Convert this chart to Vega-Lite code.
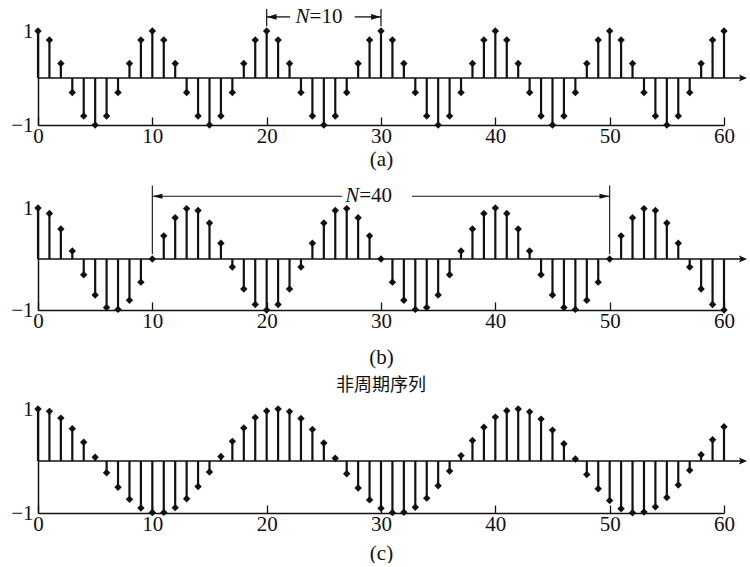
{
  "$schema": "https://vega.github.io/schema/vega-lite/v6.json",
  "background": "white",
  "padding": {"left": 5, "right": 0, "top": 5, "bottom": 0},
  "config": {
    "view": {"stroke": null},
    "font": "Liberation Serif"
  },
  "datasets": {
    "a": [
      {"n":0,"x":1},{"n":1,"x":0.809},{"n":2,"x":0.309},{"n":3,"x":-0.309},{"n":4,"x":-0.809},{"n":5,"x":-1},{"n":6,"x":-0.809},{"n":7,"x":-0.309},{"n":8,"x":0.309},{"n":9,"x":0.809},
      {"n":10,"x":1},{"n":11,"x":0.809},{"n":12,"x":0.309},{"n":13,"x":-0.309},{"n":14,"x":-0.809},{"n":15,"x":-1},{"n":16,"x":-0.809},{"n":17,"x":-0.309},{"n":18,"x":0.309},{"n":19,"x":0.809},
      {"n":20,"x":1},{"n":21,"x":0.809},{"n":22,"x":0.309},{"n":23,"x":-0.309},{"n":24,"x":-0.809},{"n":25,"x":-1},{"n":26,"x":-0.809},{"n":27,"x":-0.309},{"n":28,"x":0.309},{"n":29,"x":0.809},
      {"n":30,"x":1},{"n":31,"x":0.809},{"n":32,"x":0.309},{"n":33,"x":-0.309},{"n":34,"x":-0.809},{"n":35,"x":-1},{"n":36,"x":-0.809},{"n":37,"x":-0.309},{"n":38,"x":0.309},{"n":39,"x":0.809},
      {"n":40,"x":1},{"n":41,"x":0.809},{"n":42,"x":0.309},{"n":43,"x":-0.309},{"n":44,"x":-0.809},{"n":45,"x":-1},{"n":46,"x":-0.809},{"n":47,"x":-0.309},{"n":48,"x":0.309},{"n":49,"x":0.809},
      {"n":50,"x":1},{"n":51,"x":0.809},{"n":52,"x":0.309},{"n":53,"x":-0.309},{"n":54,"x":-0.809},{"n":55,"x":-1},{"n":56,"x":-0.809},{"n":57,"x":-0.309},{"n":58,"x":0.309},{"n":59,"x":0.809},
      {"n":60,"x":1}
    ],
    "b": [
      {"n":0,"x":1},{"n":1,"x":0.891},{"n":2,"x":0.588},{"n":3,"x":0.156},{"n":4,"x":-0.309},{"n":5,"x":-0.707},{"n":6,"x":-0.951},{"n":7,"x":-0.988},{"n":8,"x":-0.809},{"n":9,"x":-0.454},
      {"n":10,"x":0},{"n":11,"x":0.454},{"n":12,"x":0.809},{"n":13,"x":0.988},{"n":14,"x":0.951},{"n":15,"x":0.707},{"n":16,"x":0.309},{"n":17,"x":-0.156},{"n":18,"x":-0.588},{"n":19,"x":-0.891},
      {"n":20,"x":-1},{"n":21,"x":-0.891},{"n":22,"x":-0.588},{"n":23,"x":-0.156},{"n":24,"x":0.309},{"n":25,"x":0.707},{"n":26,"x":0.951},{"n":27,"x":0.988},{"n":28,"x":0.809},{"n":29,"x":0.454},
      {"n":30,"x":0},{"n":31,"x":-0.454},{"n":32,"x":-0.809},{"n":33,"x":-0.988},{"n":34,"x":-0.951},{"n":35,"x":-0.707},{"n":36,"x":-0.309},{"n":37,"x":0.156},{"n":38,"x":0.588},{"n":39,"x":0.891},
      {"n":40,"x":1},{"n":41,"x":0.891},{"n":42,"x":0.588},{"n":43,"x":0.156},{"n":44,"x":-0.309},{"n":45,"x":-0.707},{"n":46,"x":-0.951},{"n":47,"x":-0.988},{"n":48,"x":-0.809},{"n":49,"x":-0.454},
      {"n":50,"x":0},{"n":51,"x":0.454},{"n":52,"x":0.809},{"n":53,"x":0.988},{"n":54,"x":0.951},{"n":55,"x":0.707},{"n":56,"x":0.309},{"n":57,"x":-0.156},{"n":58,"x":-0.588},{"n":59,"x":-0.891},
      {"n":60,"x":-1}
    ],
    "c": [
      {"n":0,"x":1},{"n":1,"x":0.955},{"n":2,"x":0.825},{"n":3,"x":0.622},{"n":4,"x":0.362},{"n":5,"x":0.071},{"n":6,"x":-0.227},{"n":7,"x":-0.505},{"n":8,"x":-0.737},{"n":9,"x":-0.904},
      {"n":10,"x":-0.990},{"n":11,"x":-0.988},{"n":12,"x":-0.897},{"n":13,"x":-0.726},{"n":14,"x":-0.490},{"n":15,"x":-0.211},{"n":16,"x":0.087},{"n":17,"x":0.378},{"n":18,"x":0.635},{"n":19,"x":0.835},
      {"n":20,"x":0.960},{"n":21,"x":1.000},{"n":22,"x":0.950},{"n":23,"x":0.816},{"n":24,"x":0.608},{"n":25,"x":0.347},{"n":26,"x":0.054},{"n":27,"x":-0.244},{"n":28,"x":-0.519},{"n":29,"x":-0.748},
      {"n":30,"x":-0.911},{"n":31,"x":-0.993},{"n":32,"x":-0.985},{"n":33,"x":-0.889},{"n":34,"x":-0.714},{"n":35,"x":-0.476},{"n":36,"x":-0.194},{"n":37,"x":0.104},{"n":38,"x":0.394},{"n":39,"x":0.648},
      {"n":40,"x":0.844},{"n":41,"x":0.965},{"n":42,"x":0.999},{"n":43,"x":0.945},{"n":44,"x":0.806},{"n":45,"x":0.594},{"n":46,"x":0.331},{"n":47,"x":0.037},{"n":48,"x":-0.260},{"n":49,"x":-0.534},
      {"n":50,"x":-0.760},{"n":51,"x":-0.918},{"n":52,"x":-0.995},{"n":53,"x":-0.981},{"n":54,"x":-0.882},{"n":55,"x":-0.703},{"n":56,"x":-0.460},{"n":57,"x":-0.179},{"n":58,"x":0.121},{"n":59,"x":0.409},
      {"n":60,"x":0.660}
    ],
    "one": [{}],
    "barsA": [{"n": 20}, {"n": 30}],
    "barsB": [{"n": 10}, {"n": 50}]
  },
  "spacing": 16,
  "vconcat": [
    {
      "width": 686, "height": 94,
      "layer": [
        {"data": {"name": "a"}, "mark": {"type": "rule", "strokeWidth": 2.2, "color": "#111"},
         "encoding": {"x": {"field": "n", "type": "quantitative", "scale": {"domain": [0, 60], "nice": false},
                            "axis": {"title": "(a)", "values": [0, 10, 20, 30, 40, 50, 60], "format": "d", "grid": false, "domainColor": "#111", "domainWidth": 1.5, "tickColor": "#111", "tickWidth": 1.3, "tickSize": -8, "labelPadding": 8, "labelFontSize": 21, "labelFont": "Liberation Serif", "labelColor": "#111", "labelFlush": false, "titleFont": "Liberation Serif", "titleFontSize": 21, "titleFontWeight": "normal", "titleColor": "#111", "titlePadding": 2}},
                      "y": {"field": "x", "type": "quantitative", "scale": {"domain": [-1, 1], "nice": false, "zero": false},
                            "axis": {"values": [-1, 0, 1], "format": "d", "grid": false, "ticks": false, "domainColor": "#111", "domainWidth": 1.5, "labelPadding": 5, "labelFontSize": 21, "labelFont": "Liberation Serif", "labelColor": "#111", "labelFlush": false, "title": null, "minExtent": 33, "maxExtent": 33}},
                      "y2": {"datum": 0}}},
        {"data": {"name": "a"}, "mark": {"type": "point", "shape": "diamond", "filled": true, "size": 55, "color": "#111", "opacity": 1},
         "encoding": {"x": {"field": "n", "type": "quantitative"}, "y": {"field": "x", "type": "quantitative"}}},
        {"data": {"name": "one"}, "mark": {"type": "rule", "strokeWidth": 1.5, "color": "#111"},
         "encoding": {"x": {"datum": 0}, "x2": {"datum": 61.5}, "y": {"datum": 0}}},
        {"data": {"name": "one"}, "mark": {"type": "point", "shape": "M1,0L-1,-0.9L-0.6,0L-1,0.9Z", "filled": true, "size": 64, "color": "#111", "opacity": 1},
         "encoding": {"x": {"datum": 61.66}, "y": {"datum": 0}}},
        {"data": {"name": "barsA"}, "mark": {"type": "rule", "strokeWidth": 1.2, "color": "#111"},
         "encoding": {"x": {"field": "n", "type": "quantitative"}, "y": {"datum": 1.1}, "y2": {"datum": 1.47}}},
        {"data": {"name": "one"}, "mark": {"type": "rule", "strokeWidth": 1.3, "color": "#111"},
         "encoding": {"x": {"datum": 20}, "x2": {"datum": 22.05}, "y": {"datum": 1.3}}},
        {"data": {"name": "one"}, "mark": {"type": "rule", "strokeWidth": 1.3, "color": "#111"},
         "encoding": {"x": {"datum": 27.7}, "x2": {"datum": 30}, "y": {"datum": 1.3}}},
        {"data": {"name": "one"}, "mark": {"type": "point", "shape": "M-1,0L1,-0.6L1,0.6Z", "filled": true, "size": 90, "color": "#111", "opacity": 1},
         "encoding": {"x": {"datum": 20.45}, "y": {"datum": 1.3}}},
        {"data": {"name": "one"}, "mark": {"type": "point", "shape": "M1,0L-1,-0.6L-1,0.6Z", "filled": true, "size": 90, "color": "#111", "opacity": 1},
         "encoding": {"x": {"datum": 29.55}, "y": {"datum": 1.3}}},
        {"data": {"name": "one"}, "mark": {"type": "text", "text": "N", "fontStyle": "italic", "fontSize": 21, "align": "right", "baseline": "middle", "color": "#111", "font": "Liberation Serif"},
         "encoding": {"x": {"datum": 23.75}, "y": {"datum": 1.3}}},
        {"data": {"name": "one"}, "mark": {"type": "text", "text": "=10", "fontSize": 21, "align": "left", "baseline": "middle", "color": "#111", "font": "Liberation Serif"},
         "encoding": {"x": {"datum": 23.75}, "y": {"datum": 1.3}}}
      ]
    },
    {
      "spacing": 10,
      "vconcat": [
        {
          "width": 686, "height": 102,
          "layer": [
            {"data": {"name": "b"}, "mark": {"type": "rule", "strokeWidth": 2.2, "color": "#111"},
             "encoding": {"x": {"field": "n", "type": "quantitative", "scale": {"domain": [0, 60], "nice": false},
                                "axis": {"title": "(b)", "values": [0, 10, 20, 30, 40, 50, 60], "format": "d", "grid": false, "domainColor": "#111", "domainWidth": 1.5, "tickColor": "#111", "tickWidth": 1.3, "tickSize": -8, "labelPadding": 8, "labelFontSize": 21, "labelFont": "Liberation Serif", "labelColor": "#111", "labelFlush": false, "titleFont": "Liberation Serif", "titleFontSize": 21, "titleFontWeight": "normal", "titleColor": "#111", "titlePadding": 15}},
                          "y": {"field": "x", "type": "quantitative", "scale": {"domain": [-1, 1], "nice": false, "zero": false},
                                "axis": {"values": [-1, 0, 1], "format": "d", "grid": false, "ticks": false, "domainColor": "#111", "domainWidth": 1.5, "labelPadding": 5, "labelFontSize": 21, "labelFont": "Liberation Serif", "labelColor": "#111", "labelFlush": false, "title": null, "minExtent": 33, "maxExtent": 33}},
                          "y2": {"datum": 0}}},
            {"data": {"name": "b"}, "mark": {"type": "point", "shape": "diamond", "filled": true, "size": 55, "color": "#111", "opacity": 1},
             "encoding": {"x": {"field": "n", "type": "quantitative"}, "y": {"field": "x", "type": "quantitative"}}},
            {"data": {"name": "one"}, "mark": {"type": "rule", "strokeWidth": 1.5, "color": "#111"},
             "encoding": {"x": {"datum": 0}, "x2": {"datum": 61.5}, "y": {"datum": 0}}},
            {"data": {"name": "one"}, "mark": {"type": "point", "shape": "M1,0L-1,-0.9L-0.6,0L-1,0.9Z", "filled": true, "size": 64, "color": "#111", "opacity": 1},
             "encoding": {"x": {"datum": 61.66}, "y": {"datum": 0}}},
            {"data": {"name": "barsB"}, "mark": {"type": "rule", "strokeWidth": 1.1, "color": "#111"},
             "encoding": {"x": {"field": "n", "type": "quantitative"}, "y": {"datum": 0.1}, "y2": {"datum": 1.44}}},
            {"data": {"name": "one"}, "mark": {"type": "rule", "strokeWidth": 1.1, "color": "#111"},
             "encoding": {"x": {"datum": 10}, "x2": {"datum": 26.6}, "y": {"datum": 1.23}}},
            {"data": {"name": "one"}, "mark": {"type": "rule", "strokeWidth": 1.1, "color": "#111"},
             "encoding": {"x": {"datum": 32.7}, "x2": {"datum": 50}, "y": {"datum": 1.23}}},
            {"data": {"name": "one"}, "mark": {"type": "point", "shape": "M-1,0L1,-0.5L1,0.5Z", "filled": true, "size": 100, "color": "#111", "opacity": 1},
             "encoding": {"x": {"datum": 10.45}, "y": {"datum": 1.23}}},
            {"data": {"name": "one"}, "mark": {"type": "point", "shape": "M1,0L-1,-0.5L-1,0.5Z", "filled": true, "size": 100, "color": "#111", "opacity": 1},
             "encoding": {"x": {"datum": 49.55}, "y": {"datum": 1.23}}},
            {"data": {"name": "one"}, "mark": {"type": "text", "text": "N", "fontStyle": "italic", "fontSize": 21, "align": "right", "baseline": "middle", "color": "#111", "font": "Liberation Serif"},
             "encoding": {"x": {"datum": 28.1}, "y": {"datum": 1.23}}},
            {"data": {"name": "one"}, "mark": {"type": "text", "text": "=40", "fontSize": 21, "align": "left", "baseline": "middle", "color": "#111", "font": "Liberation Serif"},
             "encoding": {"x": {"datum": 28.1}, "y": {"datum": 1.23}}}
          ]
        },
        {
          "width": 686, "height": 104,
          "title": {"text": "非周期序列", "font": "Noto Sans CJK SC", "fontSize": 18, "fontWeight": "normal", "color": "#111", "offset": 3, "anchor": "middle"},
          "layer": [
            {"data": {"name": "c"}, "mark": {"type": "rule", "strokeWidth": 2.2, "color": "#111"},
             "encoding": {"x": {"field": "n", "type": "quantitative", "scale": {"domain": [0, 60], "nice": false},
                                "axis": {"title": "(c)", "values": [0, 10, 20, 30, 40, 50, 60], "format": "d", "grid": false, "domainColor": "#111", "domainWidth": 1.5, "tickColor": "#111", "tickWidth": 1.3, "tickSize": -8, "labelPadding": 8, "labelFontSize": 21, "labelFont": "Liberation Serif", "labelColor": "#111", "labelFlush": false, "titleFont": "Liberation Serif", "titleFontSize": 21, "titleFontWeight": "normal", "titleColor": "#111", "titlePadding": 8}},
                          "y": {"field": "x", "type": "quantitative", "scale": {"domain": [-1, 1], "nice": false, "zero": false},
                                "axis": {"values": [-1, 0, 1], "format": "d", "grid": false, "ticks": false, "domainColor": "#111", "domainWidth": 1.5, "labelPadding": 5, "labelFontSize": 21, "labelFont": "Liberation Serif", "labelColor": "#111", "labelFlush": false, "title": null, "minExtent": 33, "maxExtent": 33}},
                          "y2": {"datum": 0}}},
            {"data": {"name": "c"}, "mark": {"type": "point", "shape": "diamond", "filled": true, "size": 55, "color": "#111", "opacity": 1},
             "encoding": {"x": {"field": "n", "type": "quantitative"}, "y": {"field": "x", "type": "quantitative"}}},
            {"data": {"name": "one"}, "mark": {"type": "rule", "strokeWidth": 1.5, "color": "#111"},
             "encoding": {"x": {"datum": 0}, "x2": {"datum": 61.5}, "y": {"datum": 0}}},
            {"data": {"name": "one"}, "mark": {"type": "point", "shape": "M1,0L-1,-0.9L-0.6,0L-1,0.9Z", "filled": true, "size": 64, "color": "#111", "opacity": 1},
             "encoding": {"x": {"datum": 61.66}, "y": {"datum": 0}}}
          ]
        }
      ]
    }
  ]
}
